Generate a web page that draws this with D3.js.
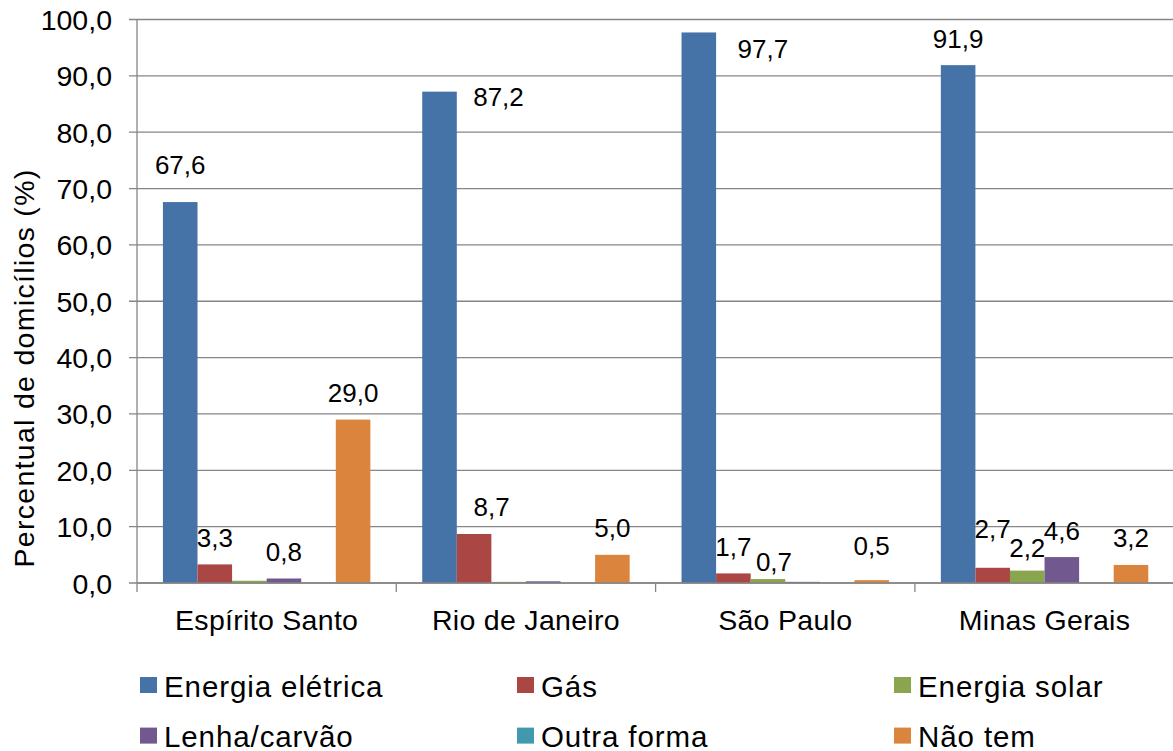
<!DOCTYPE html>
<html>
<head>
<meta charset="utf-8">
<script src="https://cdn.jsdelivr.net/npm/d3@7"></script>
<style>
  html, body { margin: 0; padding: 0; background: #ffffff; }
  svg { display: block; font-family: "Liberation Sans", Arial, sans-serif; }
</style>
</head>
<body>
<svg id="chart" width="1173" height="751"></svg>
<script>
// Domicílios por forma de iluminação (%), por estado do Sudeste
const categories = ["Espírito Santo", "Rio de Janeiro", "São Paulo", "Minas Gerais"];
const seriesNames = ["Energia elétrica", "Gás", "Energia solar", "Lenha/carvão", "Outra forma", "Não tem"];
const energiaEletrica = [67.6, 87.2, 97.7, 91.9];
const gas             = [3.3, 8.7, 1.7, 2.7];
const energiaSolar    = [0.4, 0.2, 0.7, 2.2];
const lenhaCarvao     = [0.8, 0.3, 0.2, 4.6];
const outraForma      = [0.0, 0.0, 0.0, 0.0];
const naoTem          = [29.0, 5.0, 0.5, 3.2];
const yTicks = [0, 10, 20, 30, 40, 50, 60, 70, 80, 90, 100];

// which bars carry a value label (per series, per state)
const labelShown = [
  [true, true, true, true],
  [true, true, true, true],
  [false, false, true, true],
  [true, false, false, true],
  [false, false, false, false],
  [true, true, true, true]
];

// hand-placed label offsets in px, [series, state, dx, dy]
const labelNudges = [
  [0, 0, 0, -10.5],
  [0, 1, 59, 32],
  [0, 2, 64, 43.5],
  [1, 1, 17.5, 0],
  [2, 2, 6, 9.5],
  [5, 2, 0, -7.5],
  [1, 3, 0, -12],
  [2, 3, 0, 3.5]
];

const colors = ["#4572A7", "#AA4643", "#89A54E", "#71588F", "#4198AF", "#DB843D"];
const seriesValues = [energiaEletrica, gas, energiaSolar, lenhaCarvao, outraForma, naoTem];

const svg = d3.select("#chart");
const fmt = v => d3.format(".1f")(v).replace(".", ",");

const plotLeft = 137, plotRight = 1174.2, plotTop = 19.5, plotBottom = 583;
const grid = "#868686";

const x0 = d3.scaleBand().domain(categories).range([plotLeft, plotRight]).paddingInner(0).paddingOuter(0);
const bw = x0.bandwidth() / 7.5;
const x1 = d3.scaleBand().domain(seriesNames)
  .range([0.75 * bw, 0.75 * bw + 6 * bw]).paddingInner(0).paddingOuter(0);
const y = d3.scaleLinear().domain([0, 100]).range([plotBottom, plotTop]);

// horizontal gridlines (they also form the y tick marks)
svg.append("g").selectAll("line").data(yTicks).join("line")
  .attr("x1", plotLeft - 8).attr("x2", 1173)
  .attr("y1", d => y(d)).attr("y2", d => y(d))
  .attr("stroke", grid).attr("stroke-width", 1.3);

// y tick labels
svg.append("g").selectAll("text").data(yTicks).join("text")
  .attr("x", 112).attr("y", d => y(d)).attr("dy", "0.37em")
  .attr("text-anchor", "end")
  .attr("font-size", 28.5).attr("fill", "#000")
  .text(d => fmt(d));

// bars
const flat = [];
seriesValues.forEach((vals, si) => vals.forEach((v, ci) => flat.push({ si, ci, v })));
svg.append("g").selectAll("rect").data(flat).join("rect")
  .attr("x", d => x0(categories[d.ci]) + x1(seriesNames[d.si]))
  .attr("width", x1.bandwidth())
  .attr("y", d => y(d.v))
  .attr("height", d => y(0) - y(d.v))
  .attr("fill", d => colors[d.si]);

// axis lines
svg.append("line").attr("x1", plotLeft).attr("x2", plotLeft).attr("y1", plotTop).attr("y2", plotBottom)
  .attr("stroke", grid).attr("stroke-width", 1.3);
svg.append("line").attr("x1", plotLeft).attr("x2", 1173).attr("y1", plotBottom).attr("y2", plotBottom)
  .attr("stroke", grid).attr("stroke-width", 1.3);

// category tick marks at band boundaries
const bounds = categories.map(c => x0(c)).concat([plotRight]);
svg.append("g").selectAll("line").data(bounds).join("line")
  .attr("x1", d => d).attr("x2", d => d)
  .attr("y1", plotBottom).attr("y2", plotBottom + 9)
  .attr("stroke", grid).attr("stroke-width", 1.3);

// category labels
svg.append("g").selectAll("text").data(categories).join("text")
  .attr("x", d => x0(d) + x0.bandwidth() / 2).attr("y", 630.3)
  .attr("text-anchor", "middle").attr("font-size", 28.5)
  .attr("letter-spacing", 0.3).attr("fill", "#000")
  .text(d => d);

// value labels
const nudge = (si, ci) => {
  const n = labelNudges.find(r => r[0] === si && r[1] === ci);
  return n ? [n[2], n[3]] : [0, 0];
};
const labelled = flat.filter(d => labelShown[d.si][d.ci]);
svg.append("g").selectAll("text").data(labelled).join("text")
  .attr("x", d => x0(categories[d.ci]) + x1(seriesNames[d.si]) + x1.bandwidth() / 2 + nudge(d.si, d.ci)[0])
  .attr("y", d => y(d.v) - 17.5 + nudge(d.si, d.ci)[1])
  .attr("text-anchor", "middle").attr("font-size", 26).attr("fill", "#000")
  .text(d => fmt(d.v));

// y axis title
svg.append("text")
  .attr("transform", "translate(34,368) rotate(-90)")
  .attr("text-anchor", "middle").attr("font-size", 28.5)
  .attr("letter-spacing", 1.3).attr("fill", "#000")
  .text("Percentual de domicílios (%)");

// legend: three columns, two rows
const legend = svg.append("g").selectAll("g").data(seriesNames).join("g")
  .attr("transform", (d, i) => `translate(${140 + (i % 3) * 377},${677 + Math.floor(i / 3) * 50.6})`);
legend.append("rect").attr("width", 17).attr("height", 16).attr("fill", (d, i) => colors[i]);
legend.append("text").attr("x", 24).attr("y", 19.7)
  .attr("font-size", 29.5).attr("letter-spacing", 0.9).attr("fill", "#000")
  .text(d => d);
</script>
</body>
</html>
